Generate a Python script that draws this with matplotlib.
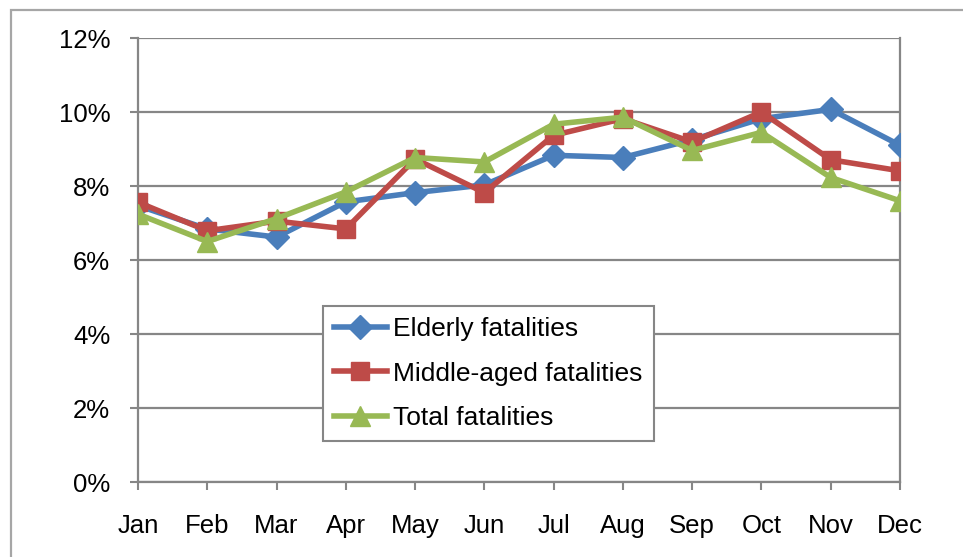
import matplotlib
matplotlib.use("Agg")
import matplotlib.pyplot as plt
from matplotlib.patches import Rectangle
from matplotlib.ticker import FuncFormatter

plt.rcParams['font.family'] = ['Liberation Sans', 'DejaVu Sans']

months = ['Jan', 'Feb', 'Mar', 'Apr', 'May', 'Jun',
          'Jul', 'Aug', 'Sep', 'Oct', 'Nov', 'Dec']
elderly = [7.47, 6.84, 6.62, 7.57, 7.82, 8.03, 8.83, 8.77, 9.25, 9.82, 10.07, 9.10]
middle_aged = [7.56, 6.79, 7.05, 6.84, 8.73, 7.82, 9.37, 9.82, 9.19, 10.0, 8.71, 8.41]
total = [7.24, 6.50, 7.12, 7.84, 8.77, 8.65, 9.67, 9.86, 8.96, 9.45, 8.23, 7.60]

series = [
    ('Elderly fatalities', elderly, '#4A7EBB', 'D', 12),
    ('Middle-aged fatalities', middle_aged, '#BE4B48', 's', 13.5),
    ('Total fatalities', total, '#98B954', '^', 15),
]

grid_col = '#868686'

fig = plt.figure(figsize=(9.63, 5.57), dpi=100)
W, H = 963, 557
ax = fig.add_axes([138 / W, 1 - 482 / H, (900 - 138) / W, (482 - 38) / H])

# outer chart frame, running off the right and bottom edges
fig.patches.append(Rectangle((11 / W, -0.1), 1.2, 1 - 10 / H + 0.1,
                             transform=fig.transFigure, fill=False,
                             edgecolor='#a6a6a6', linewidth=1.6))

x = list(range(len(months)))
for label, vals, col, mk, ms in series:
    ax.plot(x, vals, color=col, linewidth=4, marker=mk, markersize=ms,
            markeredgecolor=col, label=label, zorder=3)

ax.set_xlim(0, 11)
ax.set_ylim(0, 12)
ax.set_yticks(range(0, 13, 2))
ax.yaxis.set_major_formatter(FuncFormatter(lambda v, p: f'{v:.0f}%'))
ax.set_xticks(x)
ax.set_xticklabels(months)

ax.grid(axis='y', color=grid_col, linewidth=1.6, zorder=1)
for side in ['left', 'bottom', 'right']:
    ax.spines[side].set_color(grid_col)
    ax.spines[side].set_linewidth(1.6)
ax.spines['top'].set_visible(False)

ax.tick_params(axis='y', length=6, width=1.5, color=grid_col,
               labelsize=18.5, pad=14)
ax.tick_params(axis='x', length=6, width=1.5, color=grid_col,
               labelsize=18.5, pad=17)

leg = ax.legend(loc='upper left', bbox_to_anchor=(323 / W, 1 - 306 / H),
                bbox_transform=fig.transFigure, borderaxespad=0,
                fontsize=19, frameon=True, fancybox=False,
                edgecolor=grid_col, framealpha=1, labelspacing=0.78,
                handlelength=2.0, handletextpad=0.25, borderpad=0.42)
leg.get_frame().set_linewidth(1.5)

fig.savefig('out.png', dpi=100)
